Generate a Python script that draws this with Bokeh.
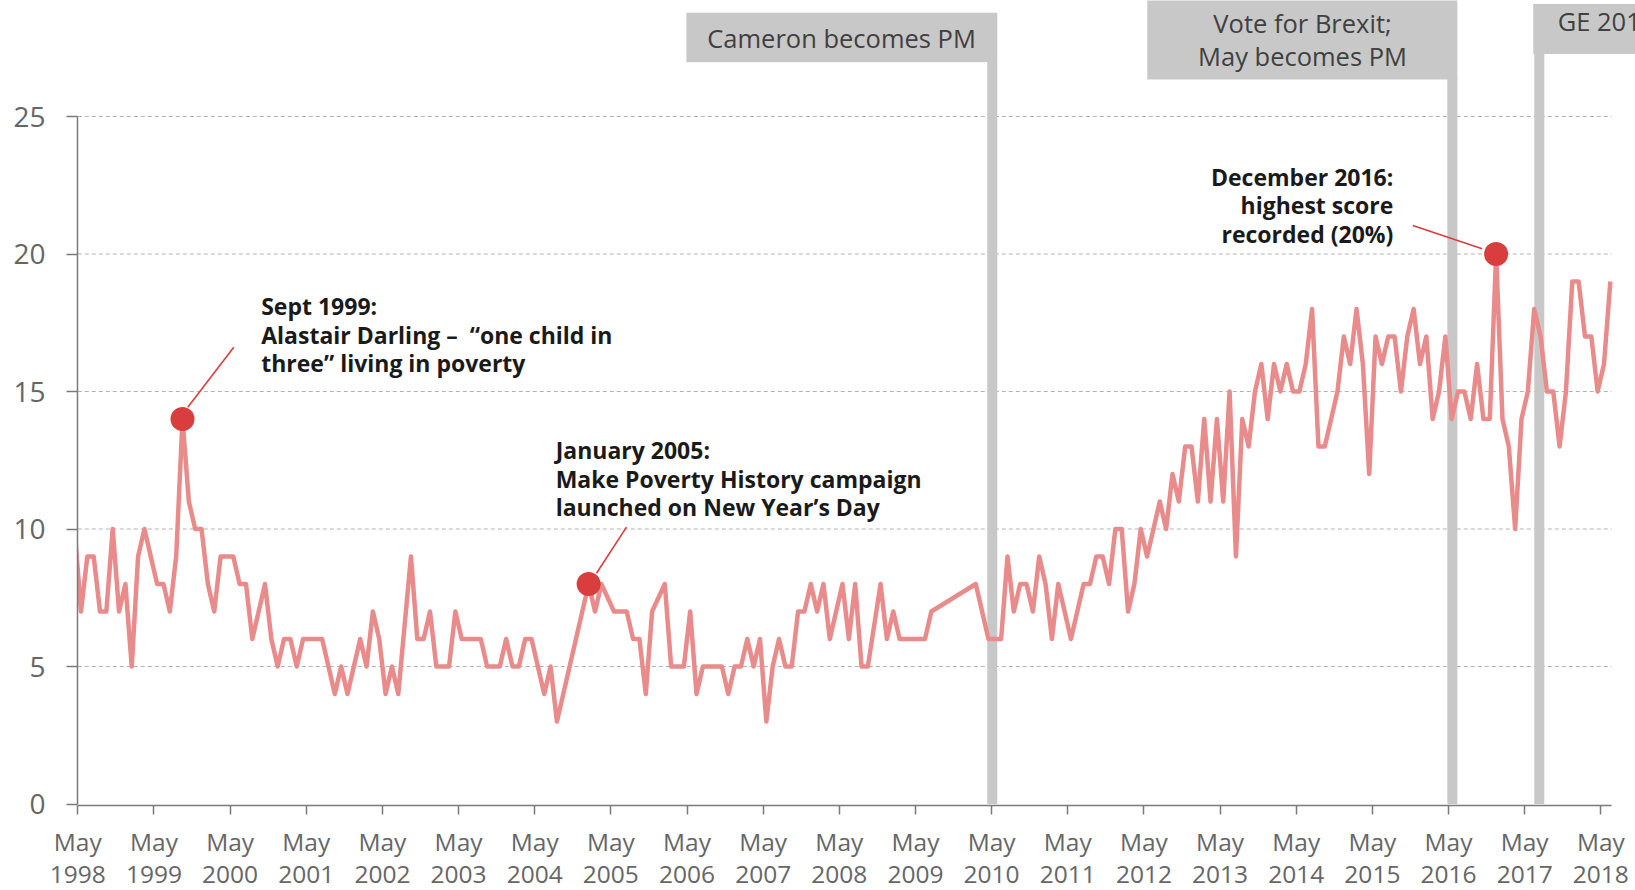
from bokeh.plotting import figure
from bokeh.models import FixedTicker, Range1d
from bokeh.embed import file_html
from bokeh.resources import INLINE
from bokeh.core.properties import value

# ---------------- data ----------------
# survey months (gaps where no poll was reported)
dates = (
    ["1998-04", "1998-05", "1998-06", "1998-07", "1998-08", "1998-09", "1998-10", "1998-11", "1998-12"]
    + ["1999-%02d" % m for m in range(1, 13)]
    + ["2000-%02d" % m for m in range(1, 13)]
    + ["2001-%02d" % m for m in range(1, 13)]
    + ["2002-%02d" % m for m in [1, 2, 3, 4, 5, 6, 7, 9, 10, 11, 12]]
    + ["2003-%02d" % m for m in range(1, 13)]
    + ["2004-%02d" % m for m in range(1, 13)]
    + ["2005-%02d" % m for m in [1, 2, 3, 5, 6, 7, 8, 9, 10, 11]]
    + ["2006-%02d" % m for m in range(1, 13)]
    + ["2007-%02d" % m for m in range(1, 13)]
    + ["2008-%02d" % m for m in [1, 2, 3, 4, 5, 6, 7, 8, 9, 11, 12]]
    + ["2009-%02d" % m for m in [1, 2, 3, 4, 5, 6, 7]]
    + ["2010-%02d" % m for m in range(2, 13)]
    + ["2011-%02d" % m for m in range(1, 13)]
    + ["2012-%02d" % m for m in range(1, 13)]
    + ["2013-%02d" % m for m in range(1, 13)]
    + ["2014-%02d" % m for m in range(1, 13)]
    + ["2015-%02d" % m for m in range(1, 13)]
    + ["2016-%02d" % m for m in range(1, 13)]
    + ["2017-%02d" % m for m in range(1, 13)]
    + ["2018-%02d" % m for m in range(1, 7)]
)

pct = (
    [10, 7, 9, 9, 7, 7, 10, 7, 8]                 # 1998 (Apr-Dec)
    + [5, 9, 10, 9, 8, 8, 7, 9, 14, 11, 10, 10]   # 1999
    + [8, 7, 9, 9, 9, 8, 8, 6, 7, 8, 6, 5]        # 2000
    + [6, 6, 5, 6, 6, 6, 6, 5, 4, 5, 4, 5]        # 2001
    + [6, 5, 7, 6, 4, 5, 4, 9, 6, 6, 7]           # 2002
    + [5, 5, 5, 7, 6, 6, 6, 6, 5, 5, 5, 6]        # 2003
    + [5, 5, 6, 6, 5, 4, 5, 3, 4, 5, 6, 7]        # 2004
    + [8, 7, 8, 7, 7, 7, 6, 6, 4, 7]              # 2005
    + [8, 5, 5, 5, 7, 4, 5, 5, 5, 5, 4, 5]        # 2006
    + [5, 6, 5, 6, 3, 5, 6, 5, 5, 7, 7, 8]        # 2007
    + [7, 8, 6, 7, 8, 6, 8, 5, 5, 8, 6]           # 2008
    + [7, 6, 6, 6, 6, 6, 7]                       # 2009
    + [8, 7, 6, 6, 6, 9, 7, 8, 8, 7, 9]           # 2010
    + [8, 6, 8, 7, 6, 7, 8, 8, 9, 9, 8, 10]       # 2011
    + [10, 7, 8, 10, 9, 10, 11, 10, 12, 11, 13, 13]   # 2012
    + [11, 14, 11, 14, 11, 15, 9, 14, 13, 15, 16, 14] # 2013
    + [16, 15, 16, 15, 15, 16, 18, 13, 13, 14, 15, 17] # 2014
    + [16, 18, 16, 12, 17, 16, 17, 17, 15, 17, 18, 16] # 2015
    + [17, 14, 15, 17, 14, 15, 15, 14, 16, 14, 14, 20] # 2016
    + [14, 13, 10, 14, 15, 18, 17, 15, 15, 13, 15, 19] # 2017
    + [19, 17, 17, 15, 16, 19]                    # 2018
)

tick_years = list(range(1998, 2019))
y_ticks = [0, 5, 10, 15, 20, 25]

# highlighted polls and their notes
highlight_dates = ["1999-09", "2005-01", "2016-12"]
note_lines = [
    ["Sept 1999:", "Alastair Darling \u2013 \u00a0\u201cone child in", "three\u201d living in poverty"],
    ["January 2005:", "Make Poverty History campaign", "launched on New Year\u2019s Day"],
    ["December 2016:", "highest score", "recorded (20%)"],
]

# political events (bar position in months after May 1998)
event_labels = [["Cameron becomes PM"], ["Vote for Brexit;", "May becomes PM"], ["GE 2017"]]
event_pos = [144.1, 216.6, 230.3]


def month_index(d):
    y, m = d.split("-")
    return (int(y) - 1998) * 12 + (int(m) - 5)


xs = [month_index(d) + 0.5 for d in dates]

# ---------------- figure ----------------
PXM = 6.346   # px per month
PXV = 27.5    # px per unit
FW, FH = 1558, 805
X0 = -0.3 / PXM
X1 = X0 + FW / PXM
Y0 = -1.5 / PXV
Y1 = 803.5 / PXV
TXT_SHIFT = -9.5  # screen px

p = figure(frame_width=FW, frame_height=FH, x_range=Range1d(X0, X1), y_range=Range1d(Y0, Y1),
           output_backend="svg", toolbar_location=None,
           min_border_left=77, min_border_right=0, min_border_top=0, min_border_bottom=85)
p.outline_line_color = None
p.background_fill_color = "white"
p.border_fill_color = "white"
p.grid.visible = False

AX = "#7a7a7a"
LBL = "#666666"

# axes
p.xaxis.ticker = FixedTicker(ticks=[(y - 1998) * 12 for y in tick_years])
p.xaxis.major_label_overrides = {(y - 1998) * 12: "May\n%d" % y for y in tick_years}
p.xaxis.bounds = (0, 241.7)
p.yaxis.ticker = FixedTicker(ticks=y_ticks)
p.yaxis.bounds = (0, 25)
for ax in (p.xaxis, p.yaxis):
    ax.axis_line_color = AX
    ax.axis_line_width = 1.5
    ax.major_tick_line_color = AX
    ax.major_tick_line_width = 1.5
    ax.major_tick_in = 0
    ax.minor_tick_line_color = None
    ax.major_label_text_color = LBL
    ax.major_label_text_font = "Open Sans"
p.xaxis.major_tick_out = 9
p.xaxis.major_label_text_font_size = "24.5px"
p.xaxis.major_label_text_line_height = 0.99
p.xaxis.major_label_standoff = 10
p.yaxis.major_tick_out = 11
p.yaxis.major_label_text_font_size = "28px"
p.yaxis.major_label_standoff = 21

# dashed grid
gy = [t for t in y_ticks if t > 0]
p.segment(x0=[0] * len(gy), x1=[241.7] * len(gy), y0=gy, y1=gy,
          line_color="#b3b3b3", line_width=1, line_dash="4 3")

# event bars and label boxes
GREY = "#c8c8c8"
box_geom = [  # (left offset, right offset, top, bottom) relative to bar
    (-48.2, 0.79, 28.77, 26.97),
    (-48.07, 0.79, 29.6, 26.35),
    (-0.95, 30.0, 29.09, 27.27),
]
for pos, (lo, ro, top, bot) in zip(event_pos, box_geom):
    p.quad(left=[pos - 0.79], right=[pos + 0.79], bottom=[0], top=[bot + 0.05],
           fill_color=GREY, line_color=None)
    p.quad(left=[pos + lo], right=[pos + ro], bottom=[bot], top=[top],
           fill_color=GREY, line_color=None)

txt_kw = dict(text_font=value("Open Sans"), text_font_size="25.5px",
              text_color="#404040", text_baseline="alphabetic", y_offset=TXT_SHIFT)
p.text(x=[120.35], y=[27.52], text=event_labels[0], text_align="center", **txt_kw)
p.text(x=[192.99, 192.99], y=[28.07, 26.86], text=event_labels[1], text_align="center", **txt_kw)
p.text(x=[233.2], y=[28.13], text=event_labels[2], text_align="left", **txt_kw)

# main series
p.line(xs, pct, line_color="#e98b8b", line_width=4.5, line_join="round")

# highlight markers + leader lines + notes
RED = "#d93d3d"
hx = [month_index(d) + 0.5 for d in highlight_dates]
hy = [pct[dates.index(d)] for d in highlight_dates]
p.segment(x0=[24.58, 86.46, 210.37], y0=[16.61, 10.07, 21.04],
          x1=[17.33, 81.74, 221.3], y1=[14.43, 8.39, 20.19],
          line_color=RED, line_width=1.6)
p.scatter(hx, hy, size=24, fill_color=RED, line_color=None)

note_anchor = [(28.9, 17.76, "left"), (75.3, 12.52, "left"), (207.3, 22.47, "right")]
for (ax_, ay_, al), lines in zip(note_anchor, note_lines):
    p.text(x=[ax_] * len(lines), y=[ay_ - i * 28.5 / PXV for i in range(len(lines))],
           text=lines, text_align=al, text_baseline="alphabetic", y_offset=TXT_SHIFT,
           text_font=value("Open Sans"), text_font_style="bold",
           text_font_size="23px", text_color="#1a1a1a")

open("out.html", "w").write(file_html(p, INLINE))
